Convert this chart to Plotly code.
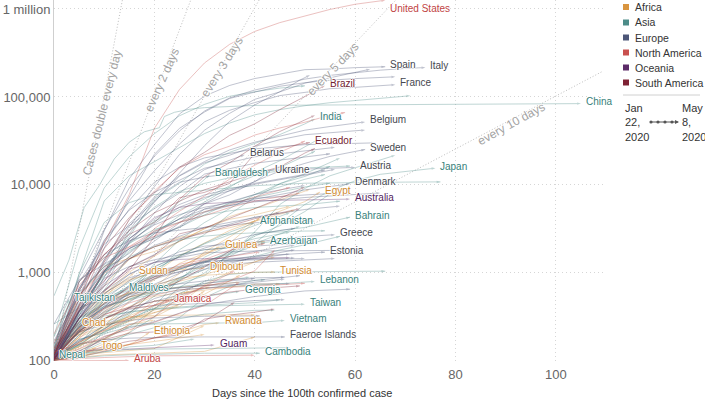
import math
import plotly.graph_objects as go

# ---------------- DATA (days since 100th case, confirmed cases) ----------------
eu_names = ["Italy", "Spain", "Germany", "France", "United Kingdom", "Russia", "Belgium",
            "Netherlands", "Switzerland", "Sweden", "Portugal", "Ireland", "Belarus", "Ukraine",
            "Austria", "Poland", "Romania", "Denmark", "Serbia", "Czechia", "Norway", "Finland",
            "Moldova", "Luxembourg", "Hungary", "Greece", "Estonia", "Croatia", "Iceland",
            "Slovenia", "Lithuania", "Bulgaria", "Slovakia", "Latvia", "Bosnia and Herzegovina",
            "North Macedonia", "Albania", "Andorra", "San Marino", "Cyprus", "Malta",
            "Faeroe Islands", "Montenegro", "Kosovo"]
eu_days = [
    [0, 5, 10, 15, 20, 25, 30, 35, 40, 45, 50, 55, 60, 65, 70, 74],
    [0, 5, 10, 15, 20, 25, 30, 35, 40, 45, 50, 55, 60, 66],
    [0, 5, 10, 15, 20, 25, 30, 35, 40, 45, 50, 55, 60, 65, 68],
    [0, 5, 10, 15, 20, 25, 30, 35, 40, 45, 50, 55, 60, 65, 68],
    [0, 5, 10, 15, 20, 25, 30, 35, 40, 45, 50, 55, 60, 63],
    [0, 5, 10, 15, 20, 25, 30, 35, 40, 45, 49, 51],
    [0, 5, 10, 15, 20, 25, 30, 35, 40, 45, 50, 55, 62],
    [0, 5, 10, 15, 20, 25, 30, 35, 40, 45, 50, 55, 60, 62],
    [0, 5, 10, 15, 20, 25, 30, 40, 50, 64],
    [0, 5, 10, 15, 20, 25, 30, 35, 40, 45, 50, 55, 62],
    [0, 5, 10, 15, 20, 25, 30, 40, 50, 56],
    [0, 5, 10, 15, 20, 25, 30, 40, 55],
    [0, 5, 10, 15, 20, 25, 30, 38],
    [0, 5, 10, 15, 20, 25, 30, 35, 40, 43],
    [0, 5, 10, 15, 20, 25, 30, 40, 50, 60],
    [0, 5, 10, 15, 20, 25, 30, 40, 50, 56],
    [0, 5, 10, 15, 20, 25, 30, 40, 50, 54],
    [0, 5, 10, 15, 20, 25, 30, 40, 50, 59],
    [0, 5, 10, 15, 20, 25, 30, 40, 50],
    [0, 5, 10, 15, 20, 25, 30, 40, 50, 57],
    [0, 5, 10, 15, 20, 25, 30, 40, 50, 65],
    [0, 5, 10, 15, 20, 25, 30, 40, 50, 57],
    [0, 5, 10, 15, 20, 30, 40, 45],
    [0, 5, 10, 15, 20, 30, 40, 52],
    [0, 5, 10, 15, 20, 30, 40, 48],
    [0, 5, 10, 15, 20, 25, 30, 40, 50, 56],
    [0, 5, 10, 15, 20, 25, 30, 40, 54],
    [0, 5, 10, 15, 20, 30, 40, 49],
    [0, 5, 10, 15, 20, 30, 40, 50, 57],
    [0, 5, 10, 15, 20, 30, 40, 50, 56],
    [0, 5, 10, 15, 20, 30, 40, 48],
    [0, 5, 10, 15, 20, 30, 40, 48],
    [0, 5, 10, 15, 20, 30, 40, 50],
    [0, 5, 10, 15, 20, 30, 40, 49],
    [0, 5, 10, 15, 20, 30, 40, 48],
    [0, 5, 10, 15, 20, 30, 40, 47],
    [0, 5, 10, 15, 20, 30, 40, 46],
    [0, 5, 10, 15, 20, 30, 40, 47],
    [0, 5, 10, 15, 20, 30, 40, 50, 59],
    [0, 5, 10, 15, 20, 30, 40, 46],
    [0, 5, 10, 15, 20, 30, 40, 46],
    [0, 5, 10, 15, 20, 30, 46],
    [0, 5, 10, 15, 20, 30, 41],
    [0, 10, 20, 30, 40],
]
eu_cases = [
    [155, 888, 3089, 9172, 21157, 41035, 69176, 97689, 119827, 139422, 159516, 175925, 189973, 201505, 210717, 215858],
    [120, 500, 3004, 11748, 28572, 64059, 102136, 135032, 161852, 182816, 204178, 207634, 215216, 220325],
    [117, 670, 1908, 7272, 22213, 43938, 67366, 96092, 113525, 132210, 145184, 154999, 161539, 166152, 169430],
    [130, 613, 2281, 6633, 14459, 29155, 52128, 70478, 86334, 103573, 112606, 124114, 128442, 132967, 137779],
    [115, 373, 1395, 4014, 9529, 22141, 41903, 65077, 93873, 114217, 143464, 165221, 190584, 206715],
    [114, 367, 1036, 2777, 6343, 13584, 27938, 52763, 80949, 114431, 155370, 177160],
    [169, 559, 1243, 3401, 7284, 12775, 18431, 24983, 30589, 36138, 41889, 46134, 52011],
    [128, 503, 1413, 3631, 6412, 12595, 17851, 21762, 27419, 32655, 37190, 39316, 40770, 42093],
    [100, 491, 2200, 5294, 10714, 15922, 20278, 25688, 28677, 30060],
    [101, 326, 1040, 1423, 2286, 3700, 6078, 7693, 10948, 14385, 17567, 21092, 25265],
    [112, 642, 2362, 5170, 8251, 11278, 15472, 20863, 24505, 26715],
    [129, 785, 2121, 3447, 5364, 8089, 13271, 17607, 22541],
    [100, 304, 700, 2226, 4779, 9590, 14917, 22052],
    [113, 418, 1072, 1668, 2777, 4161, 6125, 8617, 10861, 14195],
    [104, 361, 1332, 3024, 7029, 10711, 12297, 14476, 15225, 15800],
    [104, 355, 1051, 2215, 3627, 5575, 7202, 10169, 12877, 15047],
    [131, 367, 1029, 2460, 4057, 5990, 7707, 10417, 13163, 14811],
    [262, 836, 1255, 1877, 2577, 3290, 4875, 6876, 8773, 10281],
    [103, 303, 900, 1908, 2447, 3380, 5318, 7779, 9848],
    [116, 434, 1120, 2279, 3508, 4591, 5569, 7033, 7682, 8095],
    [108, 598, 1169, 1877, 2916, 4102, 5296, 6409, 7191, 8089],
    [109, 272, 626, 1167, 1615, 2308, 2974, 4284, 5254, 5738],
    [125, 298, 752, 1438, 2049, 3304, 4251, 4867],
    [140, 670, 1605, 2319, 2843, 3281, 3711, 3877],
    [103, 226, 492, 817, 1190, 1916, 2727, 3213],
    [117, 331, 624, 966, 1314, 1735, 2011, 2245, 2591, 2716],
    [115, 258, 404, 715, 961, 1149, 1309, 1552, 1720],
    [105, 382, 867, 1182, 1407, 1832, 2016, 2170],
    [103, 250, 568, 963, 1319, 1689, 1773, 1799, 1801],
    [141, 275, 442, 691, 897, 1188, 1317, 1408, 1454],
    [105, 299, 581, 880, 1053, 1344, 1438, 1479],
    [127, 264, 399, 577, 713, 1097, 1503, 1829],
    [105, 226, 363, 534, 742, 1325, 1407, 1455],
    [111, 244, 398, 533, 630, 712, 818, 930],
    [126, 240, 420, 624, 901, 1342, 1757, 2070],
    [114, 219, 384, 570, 854, 1231, 1465, 1642],
    [104, 197, 304, 400, 475, 663, 782, 850],
    [113, 308, 439, 564, 646, 717, 748, 752],
    [101, 119, 187, 236, 279, 435, 538, 623, 652],
    [116, 214, 356, 465, 695, 810, 878, 889],
    [107, 169, 227, 384, 427, 448, 484, 496],
    [115, 155, 173, 181, 184, 187, 187],
    [105, 214, 255, 288, 307, 321, 324],
    [112, 250, 510, 760, 862],
]

as_names = ["China", "Japan", "South Korea", "Iran", "Turkey", "India", "Saudi Arabia",
            "Pakistan", "Qatar", "Singapore", "Israel", "United Arab Emirates", "Bangladesh",
            "Indonesia", "Philippines", "Kuwait", "Kazakhstan", "Malaysia", "Afghanistan",
            "Bahrain", "Oman", "Armenia", "Uzbekistan", "Iraq", "Azerbaijan", "Georgia",
            "Kyrgyzstan", "Sri Lanka", "Lebanon", "Taiwan", "Vietnam", "Maldives", "Tajikistan",
            "Nepal", "Cambodia", "Palestine", "Brunei", "Jordan", "Thailand", "Myanmar",
            "Hong Kong"]
as_days = [
    [0, 3, 6, 9, 12, 15, 18, 21, 22, 24, 27, 30, 40, 50, 60, 84, 85, 105],
    [0, 10, 20, 30, 40, 45, 50, 55, 60, 65, 70, 76],
    [0, 5, 10, 15, 20, 25, 30, 40, 50, 60, 70, 77],
    [0, 5, 10, 15, 20, 25, 30, 35, 40, 45, 50, 55, 60, 65, 71],
    [0, 5, 10, 15, 20, 25, 30, 35, 40, 45, 50],
    [0, 5, 10, 15, 20, 25, 30, 35, 40, 45, 50, 52],
    [0, 5, 10, 15, 20, 25, 30, 35, 40, 45, 53],
    [0, 5, 10, 15, 20, 25, 30, 35, 40, 45, 52],
    [0, 5, 10, 15, 20, 25, 30, 35, 40, 45, 50, 57],
    [0, 5, 10, 15, 20, 25, 30, 35, 40, 45, 50, 55, 60, 68],
    [0, 5, 10, 15, 20, 25, 30, 35, 40, 50, 59],
    [0, 5, 10, 15, 20, 25, 30, 35, 40, 45, 50, 55],
    [0, 5, 10, 15, 20, 25, 31],
    [0, 5, 10, 15, 20, 25, 30, 35, 40, 45, 50, 54],
    [0, 5, 10, 15, 20, 25, 30, 35, 40, 45, 50, 55],
    [0, 5, 10, 15, 20, 25, 30, 35, 40, 45, 50, 56],
    [0, 5, 10, 15, 20, 25, 30, 35, 40, 47],
    [0, 5, 10, 15, 20, 25, 30, 35, 40, 45, 50, 57],
    [0, 5, 10, 15, 20, 25, 30, 35, 40],
    [0, 5, 10, 15, 20, 25, 30, 35, 40, 45, 50, 59],
    [0, 5, 10, 15, 20, 25, 30, 35, 40, 47],
    [0, 5, 10, 15, 20, 25, 30, 35, 40, 45, 49],
    [0, 5, 10, 15, 20, 25, 30, 35, 40, 45],
    [0, 5, 10, 15, 20, 25, 30, 35, 40, 45, 50, 57],
    [0, 5, 10, 15, 20, 25, 30, 35, 42],
    [0, 5, 10, 15, 20, 25, 30, 37],
    [0, 5, 10, 15, 20, 25, 30, 39],
    [0, 5, 10, 15, 20, 25, 30, 35, 40, 42],
    [0, 5, 10, 15, 20, 25, 30, 35, 40, 45, 52],
    [0, 5, 10, 15, 20, 25, 30, 35, 40, 50],
    [0, 5, 10, 15, 20, 25, 30, 35, 40, 46],
    [0, 3, 6, 9, 12, 14],
    [0, 1, 2, 3],
    [0],
    [0, 5, 10, 15, 20, 30, 41],
    [0, 5, 10, 15, 20, 30, 40, 44],
    [0, 5, 10, 15, 20, 30, 40, 47],
    [0, 5, 10, 15, 20, 30, 40, 45],
    [0, 5, 10, 15, 20, 25, 30, 35, 40, 45, 50, 54],
    [0, 5, 10, 15, 20, 28],
    [0, 10, 20, 25, 30, 35, 40, 50, 60, 66],
]
as_cases = [
    [548, 1406, 5509, 9802, 19716, 30587, 40150, 44655, 59895, 66885, 72436, 75550, 80134, 80932, 81435, 82719, 83760, 83976],
    [105, 254, 639, 1089, 2178, 3654, 6005, 8582, 11135, 13182, 14305, 15500],
    [104, 977, 3736, 6284, 7755, 8236, 8799, 9786, 10450, 10674, 10765, 10822],
    [141, 978, 6566, 12729, 18407, 27017, 38309, 50468, 62589, 71686, 79494, 85996, 90481, 96448, 103135],
    [191, 1872, 9217, 20921, 38226, 61049, 82329, 101790, 114653, 126045, 133721],
    [107, 360, 980, 2543, 6761, 10453, 17265, 23452, 29451, 37336, 49391, 56342],
    [103, 344, 1012, 1720, 2795, 4462, 6380, 9362, 13930, 18811, 33731],
    [187, 803, 1495, 2450, 3864, 5230, 6919, 9749, 12723, 15759, 24073],
    [262, 401, 501, 634, 949, 1832, 2728, 4663, 7141, 10287, 13409, 20201],
    [106, 130, 178, 243, 385, 683, 1000, 1623, 2918, 5992, 9125, 12693, 15641, 21707],
    [100, 250, 883, 3035, 5591, 8430, 10408, 12046, 13265, 15589, 16381],
    [113, 153, 333, 611, 1264, 2359, 3736, 5365, 7755, 10349, 12481, 16240],
    [123, 330, 1012, 2144, 3772, 6462, 13000],
    [117, 450, 1046, 1790, 2491, 3293, 4557, 6248, 7775, 9511, 11587, 13112],
    [111, 307, 636, 1546, 3018, 4076, 4932, 6087, 7192, 8212, 9485, 10463],
    [100, 176, 208, 289, 417, 855, 1300, 1751, 2614, 3440, 4983, 8688],
    [111, 284, 531, 781, 1091, 1546, 2135, 2717, 3403, 4834],
    [149, 553, 1183, 2161, 3116, 3793, 4530, 5072, 5532, 5742, 5945, 6535],
    [110, 273, 484, 714, 1092, 1531, 2171, 2894, 3700],
    [109, 214, 419, 499, 643, 756, 925, 1671, 2723, 3040, 3284, 4300],
    [108, 152, 231, 331, 546, 813, 1508, 2049, 2447, 2903],
    [115, 235, 482, 663, 853, 1111, 1339, 1677, 2148, 2782, 3392],
    [149, 221, 457, 582, 1165, 1604, 1836, 1939, 2149, 2325],
    [101, 154, 233, 346, 630, 878, 1202, 1400, 1539, 1820, 2085, 2603],
    [122, 209, 443, 717, 926, 1098, 1373, 1617, 2204],
    [103, 174, 211, 300, 394, 486, 539, 615],
    [107, 216, 339, 506, 612, 695, 756, 895],
    [102, 122, 166, 197, 238, 310, 523, 705, 824, 835],
    [120, 304, 412, 494, 575, 641, 673, 704, 721, 750, 800],
    [100, 195, 306, 363, 385, 398, 420, 427, 429, 440],
    [113, 148, 203, 245, 262, 266, 268, 270, 271, 288],
    [108, 176, 280, 456, 573, 640],
    [128, 230, 379, 500],
    [102],
    [103, 109, 114, 117, 119, 122, 122],
    [104, 117, 217, 263, 266, 340, 375, 375],
    [104, 120, 127, 135, 136, 138, 138, 141],
    [112, 246, 323, 358, 391, 428, 459, 494],
    [114, 411, 934, 1524, 1978, 2369, 2613, 2765, 2854, 2938, 2987, 3004],
    [110, 111, 127, 144, 150, 177],
    [100, 137, 317, 582, 802, 960, 1016, 1037, 1041, 1045],
]

af_names = ["Egypt", "South Africa", "Morocco", "Algeria", "Ghana", "Nigeria", "Cameroon",
            "Guinea", "Djibouti", "Tunisia", "Sudan", "Senegal", "Cote d'Ivoire", "DR Congo",
            "Chad", "Ethiopia", "Rwanda", "Togo", "Kenya", "Mali", "Mauritius", "Burkina Faso",
            "Niger", "Tanzania", "Somalia", "Madagascar", "Sierra Leone", "Gabon",
            "Equatorial Guinea", "Cape Verde", "Zambia", "Liberia"]
af_days = [
    [0, 5, 10, 15, 20, 25, 30, 35, 40, 45, 50, 53],
    [0, 5, 10, 15, 20, 25, 30, 35, 40, 45, 51],
    [0, 5, 10, 15, 20, 25, 30, 35, 40, 47],
    [0, 5, 10, 15, 20, 25, 30, 35, 40, 48],
    [0, 5, 10, 15, 20, 25, 30, 35, 41],
    [0, 5, 10, 15, 20, 25, 30, 35, 40],
    [0, 5, 10, 15, 20, 25, 30, 35, 42],
    [0, 5, 10, 15, 20, 25, 30, 33],
    [0, 5, 10, 15, 20, 25, 30],
    [0, 5, 10, 15, 20, 25, 30, 35, 40, 44],
    [0, 3, 6, 9, 12, 16],
    [0, 5, 10, 15, 20, 25, 30, 35, 40, 44],
    [0, 5, 10, 15, 20, 25, 30, 35, 40, 44],
    [0, 5, 10, 15, 20, 25, 30, 37],
    [0, 1, 2, 3, 4.6],
    [0, 4, 8, 12, 16, 19],
    [0, 5, 10, 15, 20, 25, 30, 33],
    [0, 3, 6, 8.4],
    [0, 5, 10, 15, 20, 25, 30],
    [0, 5, 10, 15, 20, 25, 31],
    [0, 5, 10, 15, 20, 25, 30, 40],
    [0, 5, 10, 15, 20, 30, 40, 45],
    [0, 5, 10, 15, 20, 30, 37],
    [0, 5, 10, 15, 20, 27],
    [0, 5, 10, 15, 20, 25],
    [0, 10, 20, 30, 40],
    [0, 5, 10, 15, 20],
    [0, 5, 10, 15, 20, 27],
    [0, 5, 10, 15, 20, 25],
    [0, 5, 10, 15],
    [0, 10, 20, 30],
    [0, 10, 20, 30],
]
af_cases = [
    [110, 210, 366, 609, 985, 1560, 2190, 3032, 3891, 5042, 6465, 8300],
    [116, 554, 1187, 1462, 1749, 2272, 3158, 4361, 5350, 6783, 8895],
    [115, 275, 574, 1021, 1545, 2283, 3209, 4065, 4569, 5711],
    [139, 367, 716, 1423, 1983, 2534, 2910, 3256, 3848, 5182],
    [137, 204, 287, 566, 834, 1279, 1671, 2169, 4263],
    [111, 210, 276, 343, 627, 981, 1728, 2558, 3912],
    [139, 233, 555, 820, 1017, 1163, 1621, 2077, 2274],
    [111, 144, 250, 477, 688, 1163, 1586, 2009],
    [121, 298, 591, 846, 999, 1089, 1133],
    [114, 278, 455, 596, 726, 866, 939, 975, 1013, 1022],
    [107, 162, 275, 442, 678, 1000],
    [105, 162, 222, 280, 350, 442, 736, 1024, 1329, 1634],
    [101, 190, 349, 533, 638, 801, 952, 1150, 1333, 1516],
    [109, 161, 234, 287, 377, 471, 572, 937],
    [117, 140, 170, 210, 260],
    [105, 116, 130, 135, 162, 210],
    [102, 110, 136, 153, 183, 212, 259, 271],
    [103, 116, 128, 140],
    [172, 197, 246, 303, 355, 411, 621],
    [105, 144, 216, 325, 424, 580, 692],
    [102, 186, 244, 318, 328, 331, 332, 332],
    [114, 222, 302, 414, 542, 629, 744, 748],
    [120, 184, 491, 584, 648, 719, 781],
    [106, 147, 254, 299, 480, 509],
    [116, 237, 390, 528, 601, 873],
    [102, 117, 122, 128, 186],
    [104, 136, 178, 257, 291],
    [108, 120, 156, 211, 397, 620],
    [102, 258, 258, 315, 315, 439],
    [109, 152, 175, 246],
    [106, 124, 138, 252],
    [101, 141, 166, 199],
]

na_names = ["United States", "Canada", "Mexico", "Dominican Republic", "Panama", "Cuba",
            "Honduras", "Guatemala", "Costa Rica", "El Salvador", "Jamaica", "Aruba",
            "Puerto Rico", "Trinidad and Tobago", "Haiti"]
na_days = [
    [0, 5, 10, 15, 20, 25, 30, 35, 40, 45, 50, 55, 60, 66],
    [0, 5, 10, 15, 20, 25, 30, 35, 40, 45, 50, 55, 58],
    [0, 5, 10, 15, 20, 25, 30, 35, 40, 45, 50],
    [0, 5, 10, 15, 20, 25, 30, 35, 40, 47],
    [0, 5, 10, 15, 20, 25, 30, 35, 40, 45, 49],
    [0, 5, 10, 15, 20, 25, 30, 35, 41],
    [0, 5, 10, 15, 20, 25, 30, 35, 40, 44],
    [0, 5, 10, 15, 20, 25, 30, 36],
    [0, 5, 10, 15, 20, 25, 30, 40, 50],
    [0, 5, 10, 15, 20, 25, 30, 37],
    [0, 5, 10, 15, 20, 23],
    [0, 5, 10, 15],
    [0, 5, 10, 15, 20, 25, 30, 35, 42],
    [0, 5, 10, 20, 30, 40],
    [0, 5, 10, 20, 25],
]
na_cases = [
    [118, 517, 2179, 7786, 43847, 121478, 243622, 396223, 555313, 699706, 839675, 988197, 1131030, 1256972],
    [103, 424, 1328, 4042, 8527, 15496, 22059, 27540, 36831, 44364, 51597, 61957, 66434],
    [118, 405, 993, 1510, 3181, 5014, 7497, 11633, 16752, 23471, 31522],
    [202, 719, 1488, 1956, 2620, 3755, 4964, 5926, 7288, 9376],
    [137, 558, 1075, 1988, 2974, 3751, 4467, 5538, 6532, 7387, 8070],
    [119, 233, 396, 620, 862, 1137, 1389, 1537, 1729],
    [110, 222, 298, 393, 426, 510, 702, 804, 1055, 1830],
    [126, 156, 180, 257, 316, 530, 703, 1052],
    [113, 177, 330, 454, 558, 642, 669, 705, 761],
    [103, 137, 190, 225, 274, 345, 424, 784],
    [105, 163, 223, 305, 432, 490],
    [100, 100, 100, 101],
    [100, 239, 452, 683, 903, 1252, 1416, 1808, 2156],
    [103, 107, 109, 114, 116, 116],
    [101, 110, 129, 182, 209],
]

oc_names = ["Australia", "New Zealand", "Guam"]
oc_days = [
    [0, 5, 10, 15, 20, 25, 30, 35, 40, 45, 50, 55, 59],
    [0, 5, 10, 15, 20, 25, 30, 35, 40, 47],
    [0, 5, 10, 15, 20, 25, 30, 32],
]
oc_cases = [
    [107, 300, 791, 2423, 4245, 5548, 6108, 6400, 6586, 6677, 6746, 6847, 6896],
    [102, 368, 708, 1106, 1312, 1422, 1451, 1469, 1479, 1489],
    [110, 128, 135, 136, 141, 145, 149, 151],
]

sa_names = ["Brazil", "Ecuador", "Peru", "Chile", "Colombia", "Argentina", "Bolivia",
            "Uruguay", "Venezuela", "Paraguay"]
sa_days = [
    [0, 5, 10, 15, 20, 25, 30, 35, 40, 45, 50, 54],
    [0, 5, 10, 15, 20, 25, 30, 35, 40, 45, 51],
    [0, 5, 10, 15, 20, 25, 30, 35, 40, 45, 50, 52],
    [0, 5, 10, 15, 20, 25, 30, 35, 40, 45, 50, 52],
    [0, 5, 10, 15, 20, 25, 30, 35, 40, 45, 50],
    [0, 5, 10, 15, 20, 25, 30, 35, 40, 45, 49],
    [0, 5, 10, 15, 20, 25, 30, 37],
    [0, 5, 10, 15, 20, 25, 30, 35, 40, 49],
    [0, 5, 10, 15, 20, 25, 30, 35, 40, 44],
    [0, 5, 10, 15, 20, 25, 30, 36],
]
sa_cases = [
    [121, 428, 1891, 4256, 8044, 15927, 23430, 36599, 49492, 71886, 101147, 135106],
    [111, 789, 1627, 2748, 3747, 7161, 8225, 10398, 22719, 26336, 30298],
    [117, 363, 635, 1065, 2561, 6848, 12491, 17837, 27517, 40459, 54817, 61847],
    [156, 632, 1610, 3031, 4815, 6501, 8807, 10832, 13331, 16023, 23048, 25972],
    [102, 306, 608, 1161, 1579, 2776, 3233, 4149, 5379, 7006, 9456],
    [128, 387, 820, 1451, 1975, 2443, 2839, 3435, 4127, 4783, 5371],
    [107, 210, 300, 400, 598, 807, 1167, 2081],
    [110, 217, 338, 406, 473, 508, 543, 606, 652, 711],
    [106, 119, 146, 167, 181, 198, 298, 331, 357, 388],
    [104, 129, 174, 206, 213, 228, 283, 462],
]

labeled_countries = ["United States", "Spain", "Italy", "Brazil", "France", "China", "India",
                     "Belgium", "Ecuador", "Sweden", "Belarus", "Bangladesh", "Ukraine",
                     "Austria", "Japan", "Denmark", "Egypt", "Australia", "Bahrain",
                     "Afghanistan", "Greece", "Azerbaijan", "Guinea", "Estonia", "Djibouti",
                     "Tunisia", "Sudan", "Lebanon", "Georgia", "Maldives", "Tajikistan",
                     "Jamaica", "Taiwan", "Vietnam", "Chad", "Rwanda", "Ethiopia",
                     "Faeroe Islands", "Togo", "Guam", "Cambodia", "Nepal", "Aruba"]

doubling_periods = [1, 2, 3, 5, 10]
doubling_texts = ["Cases double every day", "every 2 days", "every 3 days",
                  "every 5 days", "every 10 days"]

continent_order = ["Africa", "Asia", "Europe", "North America", "Oceania", "South America"]
x_ticks = [0, 20, 40, 60, 80, 100]
y_ticks = [100, 1000, 10000, 100000, 1000000]
y_tick_text = ["100", "1,000", "10,000", "100,000", "1 million"]

# ---------------- STYLE ----------------
FONT = "Liberation Sans, Arial, Helvetica, sans-serif"
line_colors = {"Africa": "#D9953F", "Asia": "#4C8C88", "Europe": "#4D5678",
               "North America": "#C9504E", "Oceania": "#5C2B68", "South America": "#7E2234"}
label_colors = {"Africa": "#D08A30", "Asia": "#377F7A", "Europe": "#45474F",
                "North America": "#BF4444", "Oceania": "#52235E", "South America": "#72202F"}
HALO = "1px 0 0 #fff, -1px 0 0 #fff, 0 1px 0 #fff, 0 -1px 0 #fff"

groups = {
    "Africa": (af_names, af_days, af_cases),
    "Asia": (as_names, as_days, as_cases),
    "Europe": (eu_names, eu_days, eu_cases),
    "North America": (na_names, na_days, na_cases),
    "Oceania": (oc_names, oc_days, oc_cases),
    "South America": (sa_names, sa_days, sa_cases),
}

L, R, T, B = 54, 102, 0, 41
W, H = 705, 402
PW, PH = W - L - R, H - T - B
X_MAX = 109.4
Y_RANGE = [1.998, 6.102]


def px2x(px):
    return (px - L) / PW


def py2y(py):
    return (H - B - py) / PH


fig = go.Figure()

# doubling reference lines
for per in doubling_periods:
    fig.add_trace(go.Scatter(
        x=[0, X_MAX], y=[100, 100 * 2 ** (X_MAX / per)], mode="lines",
        line=dict(color="#bdbdbd", width=1, dash="1px,2px"),
        hoverinfo="skip", showlegend=False))

# country trajectories
label_info = {}
for cont in continent_order:
    names, days, cases = groups[cont]
    for n, d, c in zip(names, days, cases):
        sizes = [0] * (len(d) - 1) + [4]
        fig.add_trace(go.Scatter(
            x=d, y=c, mode="lines+markers",
            line=dict(color=line_colors[cont], width=0.7),
            marker=dict(size=sizes, color=line_colors[cont], symbol="arrow",
                        angleref="previous", line=dict(width=0)),
            opacity=0.5, hoverinfo="skip", showlegend=False, name=n))
        label_info[n] = (cont, d[-1], c[-1])

annotations = []
label_yshift = {"United States": -8, "Nepal": 6}
for n in labeled_countries:
    cont, d, c = label_info[n]
    annotations.append(dict(
        x=d, y=math.log10(c), xref="x", yref="y", text=n, showarrow=False,
        xanchor="left", yanchor="middle", xshift=3, yshift=label_yshift.get(n, 2),
        font=dict(size=10, color=label_colors[cont], family=FONT, shadow=HALO)))

# doubling labels
doubling_pos = [(102, 113, -76), (162, 80, -66), (222, 67, -58), (333, 69, -46), (511, 124, -29)]
for txt, (px, py, ang) in zip(doubling_texts, doubling_pos):
    annotations.append(dict(
        x=px2x(px), y=py2y(py), xref="paper", yref="paper", text=txt, showarrow=False,
        textangle=ang, xanchor="center", yanchor="middle",
        font=dict(size=12, color="#a3a3a3", family=FONT, shadow=HALO)))

# x-axis title
annotations.append(dict(
    x=px2x(302), y=py2y(393), xref="paper", yref="paper",
    text="Days since the 100th confirmed case", showarrow=False,
    xanchor="center", yanchor="middle", font=dict(size=11, color="#333", family=FONT)))

# custom legend
shapes = []
leg_y = [7, 22.5, 37.5, 52.5, 67.5, 82.5]
for cont, yy in zip(continent_order, leg_y):
    shapes.append(dict(type="rect", xref="paper", yref="paper",
                       x0=px2x(623), x1=px2x(629), y0=py2y(yy + 3), y1=py2y(yy - 3),
                       fillcolor=line_colors[cont], line=dict(width=0)))
    annotations.append(dict(
        x=px2x(633), y=py2y(yy), xref="paper", yref="paper", text=cont, showarrow=False,
        xanchor="left", yanchor="middle", font=dict(size=10.5, color="#333", family=FONT)))
shapes.append(dict(type="line", xref="paper", yref="paper",
                   x0=px2x(623), x1=px2x(700), y0=py2y(95), y1=py2y(95),
                   line=dict(color="#d0d0d0", width=1)))

# time range widget
annotations.append(dict(
    x=px2x(623), y=py2y(122), xref="paper", yref="paper", text="Jan<br>22,<br>2020",
    showarrow=False, xanchor="left", yanchor="middle", align="left",
    font=dict(size=11, color="#333", family=FONT)))
annotations.append(dict(
    x=px2x(680), y=py2y(122), xref="paper", yref="paper", text="May<br>8,<br>2020",
    showarrow=False, xanchor="left", yanchor="middle", align="left",
    font=dict(size=11, color="#333", family=FONT)))
annotations.append(dict(
    x=px2x(679), y=py2y(122), ax=-29, ay=0, xref="paper", yref="paper",
    text="", showarrow=True, arrowhead=2, arrowsize=0.8,
    arrowwidth=1, arrowcolor="#555"))
for dx in [651, 658, 665, 672]:
    shapes.append(dict(type="circle", xref="paper", yref="paper",
                       x0=px2x(dx - 1.6), x1=px2x(dx + 1.6),
                       y0=py2y(122 + 1.6), y1=py2y(122 - 1.6),
                       fillcolor="#555", line=dict(width=0)))

fig.update_layout(
    width=W, height=H,
    margin=dict(l=L, r=R, t=T, b=B, pad=0),
    plot_bgcolor="white", paper_bgcolor="white",
    font=dict(family=FONT, color="#666"),
    showlegend=False,
    annotations=annotations, shapes=shapes,
    xaxis=dict(range=[0, X_MAX], tickvals=x_ticks, showgrid=True, gridcolor="#d6d6d6",
               griddash="1px,3px", gridwidth=1, zeroline=False, showline=False, ticks="",
               ticklabelstandoff=4,
               tickfont=dict(size=13, color="#666", family=FONT)),
    yaxis=dict(type="log", range=Y_RANGE, tickvals=y_ticks, ticktext=y_tick_text,
               showgrid=True, gridcolor="#d6d6d6", griddash="1px,3px", gridwidth=1,
               zeroline=False, showline=True, linecolor="#cfcfcf", linewidth=1, ticks="",
               tickfont=dict(size=13, color="#666", family=FONT)),
)

fig.write_html("out.html", config={"displayModeBar": False, "staticPlot": True},
               post_script="document.body.style.margin='0px';")
